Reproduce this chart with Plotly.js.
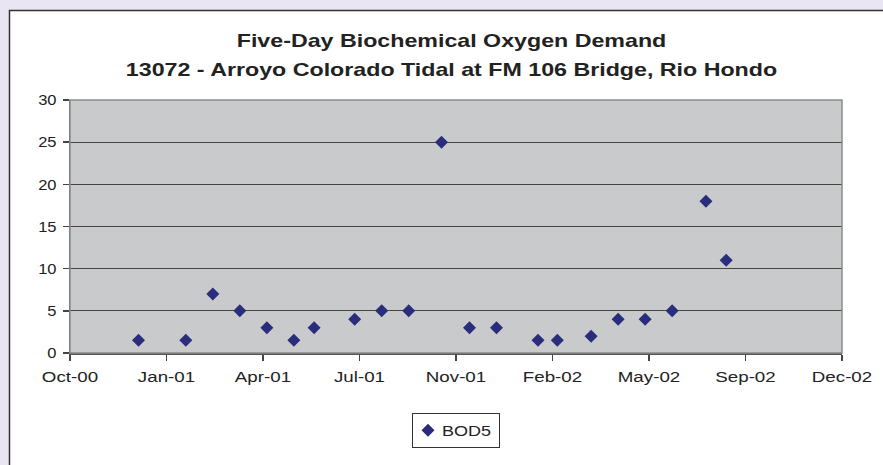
<!DOCTYPE html>
<html>
<head>
<meta charset="utf-8">
<script src="https://cdn.plot.ly/plotly-3.0.1.min.js"></script>
<style>html,body{margin:0;padding:0;background:#E9E5F3;}#chart{width:883px;height:465px;}</style>
</head>
<body>
<div id="chart"></div>
<script>
// Sample dates and BOD5 values (mg/L)
const sampleDates = [
  '2000-12-11','2001-01-29','2001-02-26','2001-03-26','2001-04-23','2001-05-21','2001-06-11',
  '2001-07-23','2001-08-20','2001-09-17','2001-10-21','2001-11-19','2001-12-17',
  '2002-01-29','2002-02-18','2002-03-25','2002-04-22','2002-05-20','2002-06-17',
  '2002-07-22','2002-08-12'
];
const bod5Values = [1.5,1.5,7,5,3,1.5,3,4,5,5,25,3,3,1.5,1.5,2,4,4,5,18,11];
const seriesName = 'BOD5';
const titleLines = ['Five-Day Biochemical Oxygen Demand','13072 - Arroyo Colorado Tidal at FM 106 Bridge, Rio Hondo'];
const xRange = ['2000-10-01','2002-12-10'];
const yRange = [0,30];

const W = 883, H = 465;
const L = 70, R = 842, T = 100, B = 353;
const px2x = p => (p - L) / (R - L);
const py2y = p => (B - p) / (B - T);

const trace = {
  x: sampleDates, y: bod5Values, name: seriesName,
  type: 'scatter', mode: 'markers',
  marker: {symbol: 'diamond', size: 10, color: '#2A2C7C'},
  showlegend: true, cliponaxis: false
};

const layout = {
  width: W, height: H,
  margin: {l: L, r: W - R, t: T, b: H - B, pad: 0},
  paper_bgcolor: '#E9E5F3',
  plot_bgcolor: '#C9CACC',
  font: {family: '"Liberation Sans", Arial, sans-serif', size: 15, color: '#222'},
  title: {
    text: '<b>' + titleLines[0] + '</b><br><b>' + titleLines[1] + '</b>',
    font: {size: 18, color: '#222'},
    xref: 'paper', x: 0.494, xanchor: 'center',
    yref: 'container', y: 1 - 28 / H, yanchor: 'top'
  },
  xaxis: {
    type: 'date', range: xRange,
    tick0: xRange[0], dtick: 100 * 86400000, tickformat: '%b-%y',
    ticks: 'outside', ticklen: 6, tickwidth: 1.5, tickcolor: '#444',
    ticklabelstandoff: 4,
    showline: true, linecolor: '#555', linewidth: 1.5,
    showgrid: false, zeroline: false,
    tickfont: {size: 15, color: '#222'}
  },
  yaxis: {
    range: yRange, dtick: 5, tick0: 0,
    ticks: 'outside', ticklen: 6, tickwidth: 1.5, tickcolor: '#444',
    ticklabelstandoff: 3,
    showline: true, linecolor: '#666', linewidth: 1.5,
    showgrid: true, gridcolor: '#444', gridwidth: 1,
    zeroline: false,
    tickfont: {size: 15, color: '#222'}
  },
  legend: {
    orientation: 'h', x: px2x(456), xanchor: 'center', y: py2y(413), yanchor: 'top',
    bgcolor: '#FFFFFF', bordercolor: '#333', borderwidth: 1,
    font: {size: 15, color: '#222'}, itemwidth: 30
  },
  shapes: [
    {type: 'rect', xref: 'paper', yref: 'paper', layer: 'below',
     x0: px2x(9.5), x1: px2x(895), y0: py2y(475), y1: py2y(10.5),
     fillcolor: '#FFFFFF', line: {color: '#333', width: 1.5}},
    {type: 'rect', xref: 'paper', yref: 'paper', layer: 'below',
     x0: 0, x1: 1, y0: 0, y1: 1,
     fillcolor: '#C9CACC', line: {width: 0}},
    {type: 'rect', xref: 'paper', yref: 'paper', layer: 'above',
     x0: 0, x1: 1, y0: 0, y1: 1,
     line: {color: '#8A8A8A', width: 1.5}}
  ]
};

// widen text horizontally about its anchor (reference text is horizontally stretched)
function stretchText(el, sx, pre) {
  const bb = el.getBBox();
  const anchor = el.getAttribute('text-anchor') || 'start';
  const ax = anchor === 'middle' ? bb.x + bb.width / 2 : (anchor === 'end' ? bb.x + bb.width : bb.x);
  const prev = el.getAttribute('transform') || '';
  el.setAttribute('transform', (pre || '') + ' ' + prev +
    ' translate(' + ax + ',0) scale(' + sx + ',1) translate(' + (-ax) + ',0)');
}

Plotly.newPlot('chart', [trace], layout, {displayModeBar: false, staticPlot: true}).then(gd => {
  const host = gd.getBoundingClientRect();
  document.querySelectorAll('.xtick text').forEach(t => stretchText(t, 1.25));
  document.querySelectorAll('.ytick text').forEach(t => stretchText(t, 1.1));
  const tt = document.querySelector('.gtitle');
  if (tt) {
    tt.querySelectorAll('tspan.line').forEach((ln, i) => { if (i > 0) ln.setAttribute('dy', (i * 29.5) + 'px'); });
    const r = tt.getBoundingClientRect();
    const dy = 31 - (r.top - host.top);
    const dx = 451.5 - (r.left - host.left + r.width / 2);
    stretchText(tt, 1.29, 'translate(' + dx + ',' + dy + ')');
  }
  const lt = document.querySelector('.legend .legendtext');
  if (lt) stretchText(lt, 1.2, 'translate(-11,0)');
  const lp = document.querySelector('.legend .legendpoints');
  if (lp) lp.setAttribute('transform', 'translate(-5,0) ' + (lp.getAttribute('transform') || ''));
});
</script>
</body>
</html>
